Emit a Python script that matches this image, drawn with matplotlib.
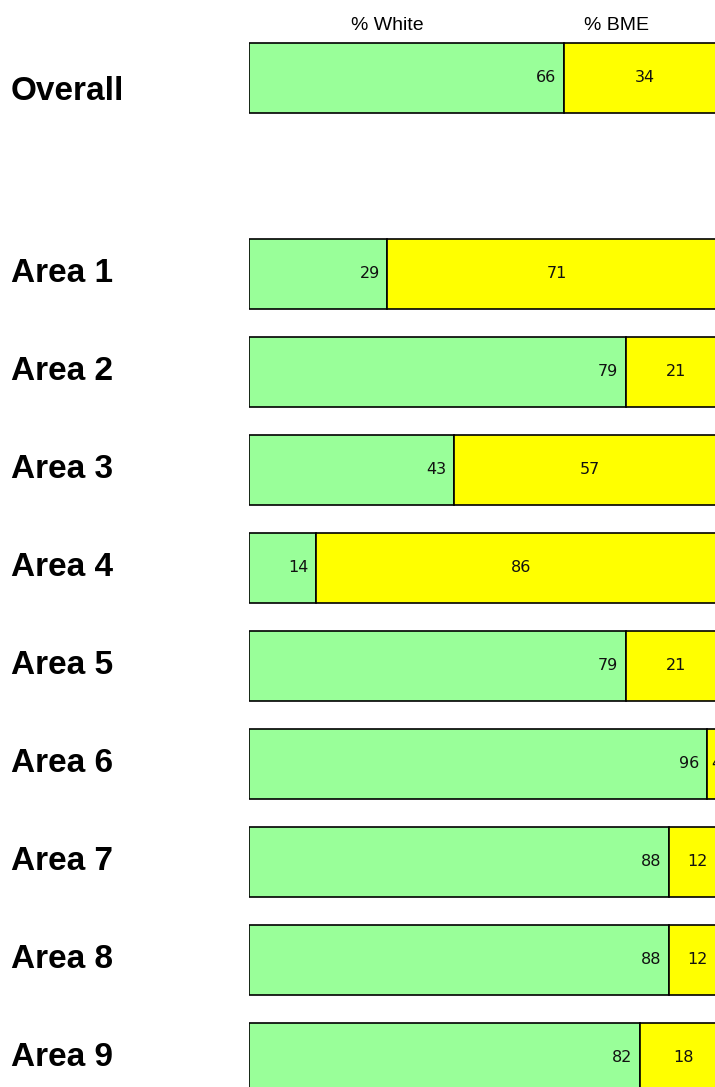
import matplotlib
matplotlib.use("Agg")
import matplotlib.pyplot as plt
from matplotlib import transforms

plt.rcParams["font.family"] = ["Liberation Sans", "DejaVu Sans"]

# Share of staff by ethnicity (percent)
categories = ["Overall", "Area 1", "Area 2", "Area 3", "Area 4",
              "Area 5", "Area 6", "Area 7", "Area 8", "Area 9"]
pct_white = [66, 29, 79, 43, 14, 79, 96, 88, 88, 82]
pct_bme = [34, 71, 21, 57, 86, 21, 4, 12, 12, 18]
series_names = ["% White", "% BME"]

# Row positions: a gap row separates the overall figure from the areas
positions = [0] + [i + 2 for i in range(len(categories) - 1)]

W, H = 715, 1087
fig = plt.figure(figsize=(W / 100, H / 100), dpi=100)

ax_left, ax_w = 249, 477
row_px = 98
top_px = 78 - row_px * 0.5
bottom_px = top_px + row_px * 11
ax = fig.add_axes([ax_left / W, (H - bottom_px) / H, ax_w / W, (bottom_px - top_px) / H])
ax.set_xlim(0, 100)
ax.set_ylim(10.5, -0.5)
ax.axis("off")

green = "#99FF99"
yellow = "#FFFF00"
bar_h = 70 / row_px

ax.barh(positions, pct_white, height=bar_h, color=green, edgecolor="black", linewidth=1.2)
ax.barh(positions, pct_bme, left=pct_white, height=bar_h, color=yellow,
        edgecolor="black", linewidth=1.2)

value_font = dict(fontsize=11.5, family="DejaVu Sans", color="#111111")
for y, w, b in zip(positions, pct_white, pct_bme):
    ax.annotate(f"{w}", xy=(w, y), xytext=(-5.5, 0), textcoords="offset points",
                ha="right", va="center", **value_font)
    ax.text(w + b / 2, y, f"{b}", ha="center", va="center", clip_on=False, **value_font)

# Column headers
ax.text(29.1, -0.54, series_names[0], ha="center", va="center", fontsize=14, clip_on=False)
ax.text(77.1, -0.54, series_names[1], ha="center", va="center", fontsize=14, clip_on=False)

# Row labels at the left edge of the figure
trans = transforms.blended_transform_factory(fig.transFigure, ax.transData)
for y, name in zip(positions, categories):
    dy = 0.14 if y == 0 else -0.01
    ax.text(11 / W, y + dy, name, transform=trans, ha="left", va="center",
            fontsize=24, fontweight="bold", clip_on=False)

fig.savefig("out.png", dpi=100)
